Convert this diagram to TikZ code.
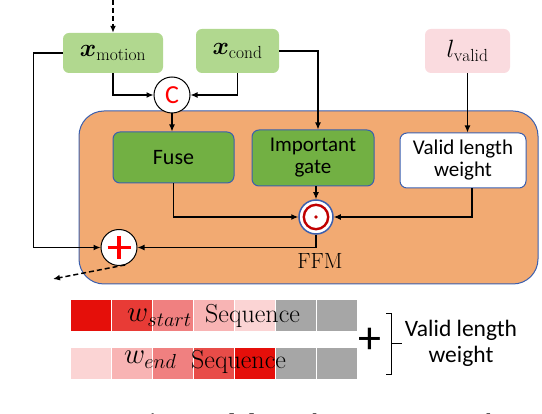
\documentclass[tikz,border=0pt]{standalone}
\usepackage{fix-cm}
\usepackage{amsmath,bm}
\usepackage{fontspec}
\newfontfamily\carl{Carlito}
\newfontfamily\tnr{Liberation Serif}
\usetikzlibrary{arrows.meta,calc}

\definecolor{lgreen}{RGB}{177,216,143}
\definecolor{lpink}{RGB}{250,219,223}
\definecolor{ffmorange}{RGB}{242,170,114}
\definecolor{bblue}{RGB}{59,95,174}
\definecolor{dgreen}{RGB}{114,176,67}
\definecolor{ringred}{RGB}{192,0,0}
\definecolor{r1}{RGB}{229,15,10}
\definecolor{r2}{RGB}{232,59,54}
\definecolor{r3}{RGB}{240,128,128}
\definecolor{r4}{RGB}{248,180,180}
\definecolor{r5}{RGB}{251,212,212}
\definecolor{r6}{RGB}{232,76,72}
\definecolor{gr}{RGB}{166,166,166}

\tikzset{
  conn/.style={line width=1.2pt, -{Latex[length=7pt,width=6pt]}},
  dashconn/.style={line width=1.5pt, dash pattern=on 5pt off 3pt, -{Latex[length=7pt,width=6pt]}},
  inbox/.style={rectangle, rounded corners=6pt, inner sep=2pt, font=\fontsize{25}{28}\selectfont},
  ffmbox/.style={rectangle, rounded corners=7pt, draw=bblue, line width=1pt, inner sep=2pt, align=center},
  opcirc/.style={circle, draw=black, fill=white, line width=1pt, minimum size=36pt, inner sep=0pt},
  cell/.style={rectangle, minimum width=39.5pt, minimum height=31pt, inner sep=0pt},
  wtext/.style={anchor=base west, inner sep=0pt, font=\fontsize{29}{32}\selectfont},
  seqtext/.style={anchor=base west, inner sep=0pt, font=\fontsize{26}{28}\selectfont},
}

\begin{document}
\begin{tikzpicture}[x=1pt,y=-1pt]
\useasboundingbox (0,0) rectangle (542,414);
\clip (0,0) rectangle (542,414);

% FFM container
\node[rectangle, rounded corners=25pt, draw=bblue, line width=1pt, fill=ffmorange,
      minimum width=459pt, minimum height=173pt, inner sep=0pt] (ffm) at (308.5,197.5) {};
\node[font=\fontsize{22}{24}\selectfont, anchor=base] (ffmlabel) at (320,269) {FFM};

% inputs
\node[inbox, minimum width=100pt, minimum height=40pt, fill=lgreen,
      path picture={\shade[inner color=white, outer color=lgreen] (110,50) circle (44);}]
      (xm) at (113,53) {$\boldsymbol{x}_{\mathrm{motion}}$};
\node[inbox, minimum width=83pt, minimum height=44pt, fill=lgreen] (xc) at (237.5,51) {$\boldsymbol{x}_{\mathrm{cond}}$};
\node[inbox, minimum width=85pt, minimum height=44pt, fill=lpink] (lv) at (467.5,51) {$l_{\mathrm{valid}}$};

% concat
\node[opcirc, text=red, font=\carl\fontsize{26}{26}\selectfont] (cat) at (172,95) {C};

% inner boxes
\node[ffmbox, fill=dgreen, minimum width=121pt, minimum height=51pt, font=\carl\fontsize{22}{24}\selectfont] (fuse) at (173.5,157.5) {Fuse};
\node[ffmbox, fill=dgreen, minimum width=122pt, minimum height=56pt, font=\carl\fontsize{21}{22}\selectfont] (gate) at (313,158) {Important\\gate};
\node[ffmbox, fill=white, minimum width=126pt, minimum height=55pt, font=\carl\fontsize{21}{22}\selectfont] (vlw) at (463,160.5) {Valid length\\weight};

% odot
\node[circle, draw=bblue, line width=1.5pt, fill=white, minimum size=34pt, inner sep=0pt,
      path picture={
        \draw[ringred, line width=2.4pt] (path picture bounding box.center) circle (12.2);
        \fill[ringred] (path picture bounding box.center) circle (1.8);}]
      (odot) at (316,217) {};

% plus
\node[opcirc,
      path picture={
        \draw[red, line width=3.2pt] ($(path picture bounding box.center)+(-11.5,0)$) -- ($(path picture bounding box.center)+(11.5,0)$);
        \draw[red, line width=3.2pt] ($(path picture bounding box.center)+(0,-11.5)$) -- ($(path picture bounding box.center)+(0,11.5)$);}]
      (plus) at (119,247.5) {};

% coordinates
\coordinate (topin) at (113,0);
\coordinate (out) at (53,279);

% connectors
\draw[dashconn] (topin) -- (xm.north);
\draw[conn] (xm.south) |- (cat.west);
\draw[conn] (xc.south) |- (cat.east);
\draw[conn] (xm.west) -- ++(-29,0) |- (plus.west);
\draw[conn] (xc.east) -| ($(gate.north)+(5,0)$);
\draw[conn] (lv.south) -- (lv.south |- vlw.north);
\draw[conn] (cat.south) -- (cat.south |- fuse.north);
\draw[conn] (fuse.south) |- (odot.west);
\draw[conn] ($(vlw.south)+(9,0)$) |- (odot.east);
\draw[conn] (odot.north |- gate.south) -- (odot.north);
\draw[conn] (odot.south) |- (plus.east);
\draw[dashconn] (plus.-70) -- (out);

% sequences
\foreach \c [count=\i] in {r1,r2,r3,r4,r5,gr,gr}
  \node[cell, fill=\c] (a\i) at ({71+41*(\i-1)+19.75},315.5) {};
\foreach \c [count=\i] in {r5,r4,r3,r6,r1,gr,gr}
  \node[cell, fill=\c] (b\i) at ({71+41*(\i-1)+19.75},363.5) {};
\node[wtext] (wa) at (127,322) {$w_{start}$};
\node[seqtext] (sa) at (205,323) {Sequence};
\node[wtext] (wb) at (124,364) {$w_{end}$};
\node[seqtext] (sb) at (191,369) {Sequence};

\node[font=\carl\fontsize{46}{46}\selectfont, inner sep=0pt] (bigplus) at (370,341) {+};
\draw[line width=1pt] (386,314) -- (391,314) -- (391,375) -- (386,375);
\draw[line width=1pt] (391,344) -- (402,344);
\node[align=center, font=\carl\fontsize{23.5}{26}\selectfont] (vlwtext) at (461,343) {Valid length\\weight};

% caption (cut by the lower edge)
\node[anchor=base west, inner sep=0pt, font=\tnr\fontsize{24}{26}\selectfont] (cap) at (-47,431)
  {\textbf{Fig. 4. Feature Fusion Module.} In the same manner, the};
\end{tikzpicture}
\end{document}
